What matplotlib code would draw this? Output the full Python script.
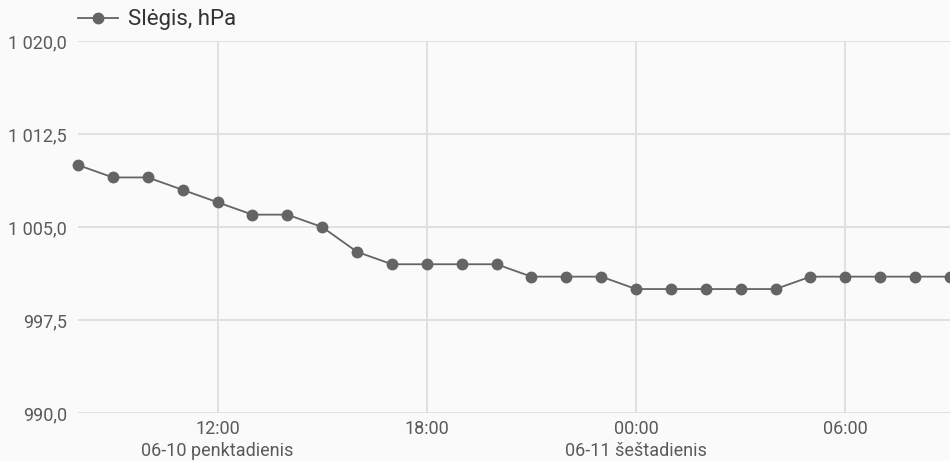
import pandas as pd
import matplotlib
matplotlib.use("Agg")
import matplotlib.pyplot as plt
from matplotlib.ticker import FuncFormatter, MultipleLocator

plt.rcParams["font.family"] = ["Roboto", "DejaVu Sans"]

# hourly readings, 2022-06-10 08:00 .. 2022-06-11 09:00
times = pd.date_range("2022-06-10 08:00", periods=26, freq="h")
pressure = [1010, 1009, 1009, 1008, 1007, 1006, 1006, 1005, 1003, 1002,
            1002, 1002, 1002, 1001, 1001, 1001, 1000, 1000, 1000, 1000,
            1000, 1001, 1001, 1001, 1001, 1001]

tick_times = pd.to_datetime(["2022-06-10 12:00", "2022-06-10 18:00",
                             "2022-06-11 00:00", "2022-06-11 06:00"])
tick_labels = ["12:00\n06-10 penktadienis", "18:00",
               "00:00\n06-11 šeštadienis", "06:00"]

series_label = "Slėgis, hPa"
line_color = "#646464"
grid_color = "#dedede"
text_color = "#5a5a5a"

fig = plt.figure(figsize=(9.5, 4.61), dpi=100, facecolor="#fafafa")
ax = fig.add_axes([0.0821, 0.104, 0.9179, 0.807])
ax.set_facecolor("#fafafa")

ax.plot(times, pressure, color=line_color, lw=1.3, marker="o",
        markersize=7.5, clip_on=False, label=series_label, zorder=3)

ax.set_xlim(times[0], times[-1])
ax.set_ylim(990, 1020)
ax.yaxis.set_major_locator(MultipleLocator(7.5))


def fmt_lt(v, pos):
    s = f"{v:,.1f}"
    return s.replace(",", " ").replace(".", ",")


ax.yaxis.set_major_formatter(FuncFormatter(fmt_lt))
ax.set_xticks(tick_times)
ax.set_xticklabels(tick_labels, linespacing=1.25)

ax.grid(True, color=grid_color, lw=1.3)
ax.set_axisbelow(True)
for sp in ax.spines.values():
    sp.set_visible(False)
ax.tick_params(length=0, labelsize=13, labelcolor=text_color)
ax.tick_params(axis="y", pad=8)
ax.tick_params(axis="x", pad=5)

fig.legend(loc="center left", bbox_to_anchor=(0.0821, 0.957), frameon=False,
           fontsize=16, handlelength=1.8, handletextpad=0.45,
           borderpad=0, borderaxespad=0, labelcolor="#333333")

fig.savefig("out.png", dpi=100, facecolor=fig.get_facecolor())
plt.close(fig)
